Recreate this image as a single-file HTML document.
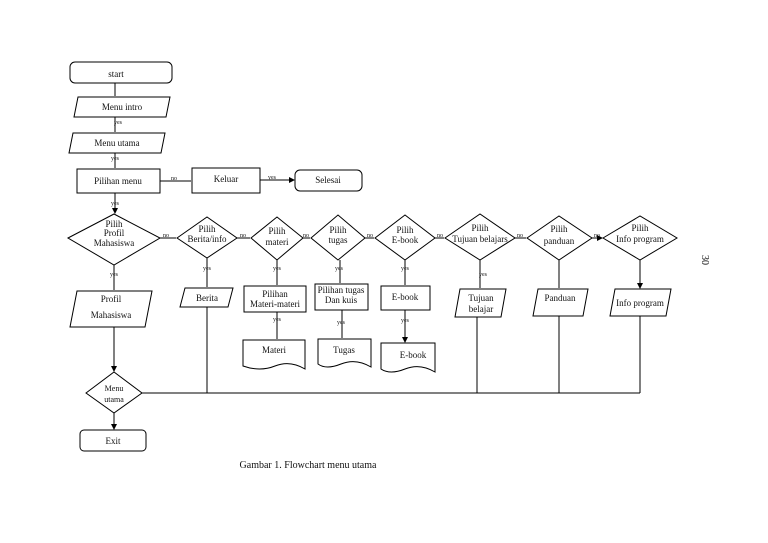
<!DOCTYPE html>
<html><head><meta charset="utf-8"><style>
html,body{margin:0;padding:0;background:#fff}
svg{display:block}
text{font-family:"Liberation Serif",serif;font-size:9px;fill:#111;text-anchor:middle}
.s{font-size:6px}
</style></head><body>
<svg width="768" height="543" viewBox="0 0 768 543" xmlns="http://www.w3.org/2000/svg">
<defs><marker id="a" markerWidth="6" markerHeight="6" refX="5" refY="3" orient="auto"><path d="M0,0L6,3L0,6z" fill="#000"/></marker></defs>
<g fill="none" stroke="#000" stroke-width="1">
<rect x="70" y="62" width="102" height="21" rx="5"/>
<path d="M78,97H170L166,117H74z"/>
<path d="M73,133H165L161,153H69z"/>
<rect x="77" y="169" width="83" height="24"/>
<rect x="192" y="168" width="68" height="25"/>
<rect x="295" y="170" width="67" height="21" rx="5"/>
<path d="M115,83V96M115,117V132M115,153V168M115,193V213" marker-end="url(#a)"/>
<path d="M160,181H191M260,180H294" marker-end="url(#a)"/>
<path d="M68,238L114,214L160,238L114,265z"/>
<path d="M177,238L207,217L237,238L207,258z"/>
<path d="M251,238L277,217L303,238L277,260z"/>
<path d="M311,238L338,215L365,238L338,260z"/>
<path d="M375,238L405,215L435,238L405,260z"/>
<path d="M445,238L480,214L515,238L480,260z"/>
<path d="M527,238L559,216L592,238L559,260z"/>
<path d="M603,238L640,216L677,238L640,260z"/>
<path d="M160,238H176M237,238H250M303,238H310M365,238H374M435,238H444M515,238H526M592,238H602" marker-end="url(#a)"/>
<path d="M114,265V290M207,258V287M277,260V285M340,260V283M405,260V285M480,260V288M559,260V288M640,260V288" marker-end="url(#a)"/>
<path d="M77,291H152L145,327H70z"/>
<path d="M185,288H233L228,307H180z"/>
<rect x="244" y="286" width="62" height="26"/>
<rect x="315" y="284" width="53" height="26"/>
<rect x="381" y="286" width="49" height="24"/>
<path d="M460,289H506L501,317H455z"/>
<path d="M538,289H588L583,316H533z"/>
<path d="M615,289H671L666,316H610z"/>
<path d="M277,312V339M342,310V338M405,310V342" marker-end="url(#a)"/>
<path d="M243,340H305V369Q290,360 275,366T243,366z"/>
<path d="M318,339H371V367Q356,358 341,364T318,364z"/>
<path d="M381,343H435V372Q420,363 405,369T381,369z"/>
<path d="M114,327V371" marker-end="url(#a)"/>
<path d="M86,393L114,372L142,393L114,413z"/>
<path d="M114,413V429" marker-end="url(#a)"/>
<rect x="80" y="430" width="66" height="21" rx="4"/>
<path d="M142,393H640M207,307V393M389,393V393M477,317V393M559,316V393M640,316V393"/>
</g>
<text x="116" y="77">start</text>
<text x="122" y="110">Menu intro</text>
<text x="117" y="146">Menu utama</text>
<text x="118" y="184">Pilihan menu</text>
<text x="226" y="182">Keluar</text>
<text x="328" y="183">Selesai</text>
<text x="114" y="227">Pilih</text><text x="114" y="236">Profil</text><text x="114" y="246">Mahasiswa</text>
<text x="207" y="232">Pilih</text><text x="207" y="242">Berita/info</text>
<text x="277" y="234">Pilih</text><text x="277" y="245">materi</text>
<text x="338" y="233">Pilih</text><text x="338" y="243">tugas</text>
<text x="405" y="233">Pilih</text><text x="405" y="243">E-book</text>
<text x="480" y="231">Pilih</text><text x="480" y="242">Tujuan belajars</text>
<text x="559" y="232">Pilih</text><text x="559" y="244">panduan</text>
<text x="640" y="231">Pilih</text><text x="640" y="242">Info program</text>
<text x="111" y="302">Profil</text><text x="111" y="318">Mahasiswa</text>
<text x="207" y="301">Berita</text>
<text x="275" y="297">Pilihan</text><text x="275" y="307">Materi-materi</text>
<text x="341" y="293">Pilihan tugas</text><text x="341" y="303">Dan kuis</text>
<text x="405" y="300">E-book</text>
<text x="481" y="301">Tujuan</text><text x="481" y="312">belajar</text>
<text x="560" y="301">Panduan</text>
<text x="640" y="306">Info program</text>
<text x="274" y="353">Materi</text>
<text x="344" y="353">Tugas</text>
<text x="413" y="358">E-book</text>
<text x="114" y="391" style="font-size:8px">Menu</text><text x="114" y="402" style="font-size:8px">utama</text>
<text x="113" y="444">Exit</text>
<text x="308" y="468" style="font-size:10px">Gambar 1. Flowchart menu utama</text>
<text x="0" y="0" transform="translate(702,260) rotate(90)" style="font-size:10px">30</text>
<g class="s">
<text class="s" x="118" y="124">yes</text>
<text class="s" x="115" y="160">yes</text>
<text class="s" x="174" y="180">no</text>
<text class="s" x="272" y="179">yes</text>
<text class="s" x="115" y="205">yes</text>
<text class="s" x="166" y="237">no</text>
<text class="s" x="243" y="237">no</text>
<text class="s" x="306" y="237">no</text>
<text class="s" x="370" y="237">no</text>
<text class="s" x="440" y="237">no</text>
<text class="s" x="520" y="237">no</text>
<text class="s" x="597" y="237">no</text>
<text class="s" x="114" y="276">yes</text>
<text class="s" x="207" y="270">yes</text>
<text class="s" x="277" y="270">yes</text>
<text class="s" x="339" y="270">yes</text>
<text class="s" x="405" y="270">yes</text>
<text class="s" x="483" y="276">yes</text>
<text class="s" x="277" y="321">yes</text>
<text class="s" x="341" y="324">yes</text>
<text class="s" x="405" y="322">yes</text>
</g>
</svg>
</body></html>
